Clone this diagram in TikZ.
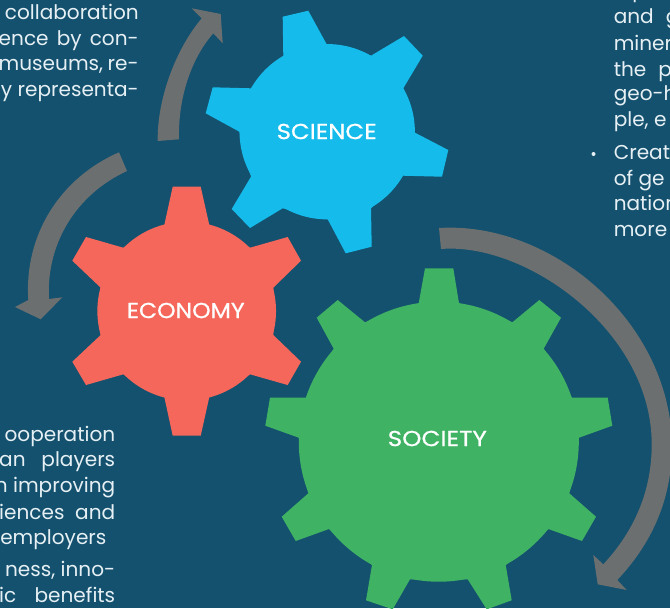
\documentclass[tikz,border=0pt]{standalone}
\usepackage{fontspec}
\setmainfont{Poppins}
\newfontfamily\labelface[FakeBold=0.6]{Poppins}
\definecolor{bgblue}{HTML}{14516E}
\definecolor{scienceblue}{HTML}{15BBEB}
\definecolor{econred}{HTML}{F5675B}
\definecolor{socgreen}{HTML}{3FB263}
\definecolor{arrowgrey}{HTML}{6B6F70}
\definecolor{copytext}{HTML}{E6F0F4}
\newcommand\jline[2]{\makebox[#1pt][s]{#2}}
\tikzset{
  gearhub/.style={circle,inner sep=0pt,outer sep=0pt,draw=none,minimum size=#1},
  gearlabel/.style={text=white,inner sep=0pt,font=\labelface\fontsize{14.5}{15}\selectfont},
  copyline/.style={text=copytext,inner sep=0pt,font=\fontsize{15.05}{16}\selectfont},
  cycleband/.style={fill=arrowgrey,draw=none}
}
\begin{document}
\begin{tikzpicture}[x=0.75pt,y=-0.75pt]
\useasboundingbox (0,0) rectangle (670,608);
\clip (0,0) rectangle (670,608);
\fill[bgblue] (0,0) rectangle (670,608);

% cycle arrows
\fill[cycleband] (157.7,141) .. controls (157,100) and (175,50) .. (201.7,18.3) -- (191.7,8.3) -- (220.7,14) -- (222.7,43.3) -- (213.3,33.3) .. controls (190,60) and (178,100) .. (179,139.3) -- cycle;
\fill[cycleband] (119,152.3) .. controls (60,178) and (24,235) .. (28.3,300) -- (15,307) -- (40.7,319.3) -- (62.3,297.3) -- (49,299) .. controls (46,245) and (75,195) .. (127,171) -- cycle;
\fill[cycleband] (439,228) .. controls (550,221) and (670,320) .. (672,445) .. controls (672,495) and (655,540) .. (617.3,580) -- (626.7,590) -- (597.7,584.3) -- (593.3,555) -- (603.3,564.3) .. controls (635,530) and (652,490) .. (651.7,443.3) .. controls (651,330) and (525,242) .. (441,249) -- cycle;

% science gear
\fill[scienceblue] (283.3,56) -- (282.7,16.7) -- (308.3,10.7) -- (326.7,44.3) -- (371,55.7) -- (404,36) -- (422.7,55.7) -- (403.3,88.3) -- (415,132.7) -- (448.3,150) -- (442,176.7) -- (402.7,175.7) -- (371,208.3) -- (371.7,246.7) -- (345.7,253.3) -- (327.7,219.3) -- (282.7,208.3) -- (250,228) -- (231.7,209) -- (251,176.7) -- (239.3,131.7) -- (205.7,113.3) -- (212.7,87.3) -- (251,88.3) -- cycle;
\node[gearhub=131.5pt,fill=scienceblue] (sciencehub) at (327.2,131.7) {};
\node[gearlabel] (sciencelabel) at (326.7,131.5) {\resizebox{75pt}{11.5pt}{SCIENCE}};

% economy gear
\fill[econred] (164.3,225) -- (172.7,186.7) -- (200.7,186.7) -- (209.3,225) -- (250,247.7) -- (287.7,237) -- (301,260.7) -- (273.3,287.7) -- (273.3,335) -- (301,361.7) -- (287.7,385) -- (250,374.3) -- (209.3,397) -- (200.7,435.7) -- (172.7,435.7) -- (164.3,397) -- (123.3,374.3) -- (86,385) -- (72.3,361.7) -- (100.7,335) -- (100.7,287.7) -- (72.3,260.7) -- (86,237) -- (123.3,247.7) -- cycle;
\node[gearhub=134pt,fill=econred] (economyhub) at (186.7,311) {};
\node[gearlabel] (economylabel) at (185.8,310.5) {\resizebox{88.3pt}{11.5pt}{ECONOMY}};

% society gear
\fill[socgreen] (418.7,303.3) -- (425,268.3) -- (453.3,268.3) -- (459,303.3) -- (512.3,322.3) -- (539.3,300) -- (561,317.7) -- (543.7,348.7) -- (571.7,397.7) -- (607.7,397.7) -- (612.3,425.7) -- (579,437.7) -- (569.3,493.3) -- (596,516.7) -- (582,541) -- (548.3,529) -- (505.7,565) -- (511.7,600.3) -- (486.7,609.3) -- (467.7,579.3) -- (410,579.3) -- (392.7,609.3) -- (366,600.3) -- (372,565) -- (329,529) -- (295.7,541) -- (281.7,516.7) -- (308.3,493.3) -- (298.7,437.7) -- (265.3,425.7) -- (270,397.7) -- (306,397.7) -- (333.7,348.7) -- (316.7,317.7) -- (337.7,300) -- (365,322.3) -- cycle;
\node[gearhub=210pt,fill=socgreen] (societyhub) at (438.8,441.7) {};
\node[gearlabel] (societylabel) at (437.3,438.5) {\resizebox{74.3pt}{11.5pt}{SOCIETY}};

% top-left copy
\node[copyline,anchor=base east] (tl1) at (139,19) {collaboration};
\node[copyline,anchor=base east] (tl2) at (139,45) {\jline{105}{ence by con-}};
\node[copyline,anchor=base east] (tl3) at (139,70) {\jline{105}{museums, re-}};
\node[copyline,anchor=base east] (tl4) at (139,96) {y representa-};

% bottom-left copy
\node[copyline,anchor=base east] (bl1) at (115.5,441.7) {ooperation};
\node[copyline,anchor=base east] (bl2) at (115.5,466.7) {\jline{87}{an players}};
\node[copyline,anchor=base east] (bl3) at (115.5,492) {n improving};
\node[copyline,anchor=base east] (bl4) at (115.5,519) {\jline{87}{iences and}};
\node[copyline,anchor=base east] (bl5) at (106.7,544) {employers};
\node[copyline,anchor=base east] (bl6) at (115.5,576.7) {ness, inno-};
\node[copyline,anchor=base east] (bl7) at (115.5,602) {\jline{87}{ic benefits}};

% right copy
\node[copyline,anchor=base west] (r0) at (632,-3) {p};
\node[copyline,anchor=base west] (r1) at (613.5,23.3) {and\hspace{9pt}g};
\node[copyline,anchor=base west] (r2) at (613.5,50) {miner};
\node[copyline,anchor=base west] (r3) at (613.5,76) {the\hspace{9pt}p};
\node[copyline,anchor=base west] (r4) at (613.5,100) {geo-h};
\node[copyline,anchor=base west] (r5) at (613.5,126.7) {ple, e};
\fill[copytext] (593.5,154) circle[radius=2];
\node[copyline,anchor=base west] (r6) at (613.5,159) {Creat};
\node[copyline,anchor=base west] (r7) at (613.5,185) {of ge};
\node[copyline,anchor=base west] (r8) at (613.5,210.7) {nation};
\node[copyline,anchor=base west] (r9) at (613.5,236) {more};
\end{tikzpicture}
\end{document}
